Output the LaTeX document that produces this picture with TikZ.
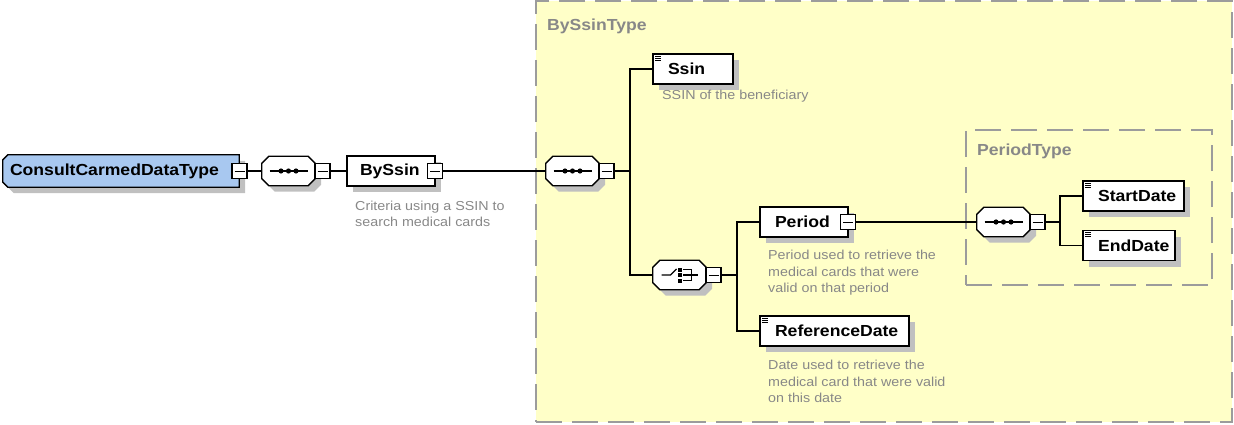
\documentclass[tikz,border=0pt]{standalone}
\usepackage{fontspec}
\setmainfont{Liberation Sans}[FakeStretch=1.1]
\usetikzlibrary{shadows}

\definecolor{groupfill}{HTML}{FFFFC8}
\definecolor{groupline}{HTML}{9C9C9C}
\definecolor{desc}{HTML}{888888}
\definecolor{shadowgray}{HTML}{C0C0C0}
\definecolor{rootfill}{HTML}{A8C8F0}

\pgfdeclarelayer{groups}
\pgfdeclarelayer{shapes}
\pgfsetlayers{groups,shapes,main}

\tikzset{
  wire/.style={line width=1.4pt, draw=black},
  boxshadow/.style={drop shadow={shadow xshift=6pt, shadow yshift=-6pt, fill=shadowgray, opacity=1}},
  elemfont/.style={font=\fontsize{16}{18}\selectfont\bfseries},
  elem/.style={rectangle, draw, fill=white, line width=1.3pt, minimum height=30pt,
    inner ysep=0pt, inner xsep=15pt, align=left, elemfont, boxshadow},
  simple/.style={elem, path picture={
      \foreach \d in {2pt,4pt,6pt}
        \draw[black, line width=0.9pt] ([shift={(2.2pt,-\d)}]path picture bounding box.north west) -- +(6pt,0pt);}},
  minus/.style={rectangle, draw, fill=white, line width=1.1pt, minimum size=15pt, inner sep=0pt,
    path picture={\draw[black, line width=1pt] ([xshift=-5pt]path picture bounding box.center)
      -- ([xshift=5pt]path picture bounding box.center);}},
  compframe/.style={rectangle, minimum width=53pt, minimum height=29pt, inner sep=0pt},
  icon/.style={black, line width=1.2pt},
  group/.style={rectangle, draw=groupline, fill=groupfill, line width=1.5pt,
    dash pattern=on 26pt off 10pt, inner sep=0pt},
  grouplabel/.style={anchor=base west, inner sep=0pt, text=desc, elemfont},
  note/.style={anchor=north west, inner sep=0pt, align=left, text=desc,
    font=\fontsize{13}{16.6}\selectfont},
}

% octagonal outline of a compositor node
\newcommand\octpath[2]{([xshift=#2]#1.north west) -- ([xshift=-#2]#1.north east)
  -- ([yshift=-#2]#1.north east) -- ([yshift=#2]#1.south east)
  -- ([xshift=-#2]#1.south east) -- ([xshift=#2]#1.south west)
  -- ([yshift=#2]#1.south west) -- ([yshift=-#2]#1.north west) -- cycle}
% outline of the root type: cut corners on the left only
\newcommand\rootpath[2]{([xshift=#2]#1.north west) -- (#1.north east)
  -- (#1.south east) -- ([xshift=#2]#1.south west)
  -- ([yshift=#2]#1.south west) -- ([yshift=-#2]#1.north west) -- cycle}

\newcommand\compshape[1]{%
  \begin{pgfonlayer}{shapes}
    \fill[shadowgray, transform canvas={shift={(6pt,-6pt)}}] \octpath{#1}{7pt};
    \draw[line width=1.3pt, fill=white] \octpath{#1}{7pt};
  \end{pgfonlayer}}

% sequence symbol: a line with three dots
\newcommand\seqicon[1]{%
  \draw[icon] ([xshift=-19pt]#1.center) -- ([xshift=19pt]#1.center);
  \foreach \dx in {-7.5pt,0pt,7.5pt}
    \fill[black] ([xshift=\dx]#1.center) circle[radius=2.6pt];}

% choice symbol: a switch in front of a bracket
\newcommand\choiceicon[1]{%
  \draw[icon, line width=1.1pt] ([xshift=-18pt]#1.center) -- ([xshift=-9pt]#1.center)
    -- ([shift={(-3pt,6pt)}]#1.center);
  \foreach \dy in {5.5pt,0pt,-5.5pt}
    \fill[black] ([shift={(-1.2pt,\dy-2pt)}]#1.center) rectangle +(4pt,4pt);
  \draw[icon, line width=1.1pt] ([shift={(3.8pt,5.5pt)}]#1.center) -| ([shift={(12pt,-5.5pt)}]#1.center)
    -- ([shift={(3.8pt,-5.5pt)}]#1.center);
  \draw[icon, line width=1.1pt] ([xshift=3.8pt]#1.center) -- ([xshift=18.5pt]#1.center);}

\begin{document}
\begin{tikzpicture}[x=1pt, y=-1pt]
\useasboundingbox (0,0) rectangle (1234,425);

% type groups
\begin{pgfonlayer}{groups}
\node[group, minimum width=696pt, minimum height=421pt] (gbyssin) at (884,211.5) {};
\node[group, minimum width=246pt, minimum height=155pt] (gperiod) at (1089,207.5) {};
\end{pgfonlayer}
\node[grouplabel] (lbyssin) at (547,30.5) {BySsinType};
\node[grouplabel] (lperiod) at (977,156) {PeriodType};

% root element
\node[rectangle, minimum width=236pt, minimum height=32pt, inner ysep=0pt, inner xsep=7pt,
  text width=222pt, align=left, elemfont] (root) at (121,171) {ConsultCarmedDataType};
\begin{pgfonlayer}{shapes}
  \fill[shadowgray, transform canvas={shift={(6pt,-6pt)}}] \rootpath{root}{5pt};
  \draw[line width=1.3pt, fill=rootfill] \rootpath{root}{5pt};
\end{pgfonlayer}
\node[minus] (mroot) at (239.5,171) {};

\node[compframe] (seq1) at (288.5,171) {};
\compshape{seq1}\seqicon{seq1}
\node[minus] (mseq1) at (322.5,171) {};

\node[elem, inner xsep=13pt, text width=62pt] (byssin) at (391,171) {BySsin};
\node[minus] (mbyssin) at (435,171) {};
\node[note] (nbyssin) at (355,200.5) {Criteria using a SSIN to\\search medical cards};

% BySsinType content
\node[compframe] (seq2) at (572.5,171) {};
\compshape{seq2}\seqicon{seq2}
\node[minus] (mseq2) at (606.5,171) {};
\coordinate (bus2) at (630,171);

\node[simple, text width=50pt] (ssin) at (693,69) {Ssin};
\node[note] (nssin) at (662,90) {SSIN of the beneficiary};

\node[compframe] (choice) at (679.5,275) {};
\compshape{choice}\choiceicon{choice}
\node[minus] (mchoice) at (713.5,275) {};
\coordinate (bus3) at (737,275);

\node[elem, text width=58pt] (period) at (804,222) {Period};
\node[minus] (mperiod) at (848,222) {};
\node[note] (nperiod) at (768,250) {Period used to retrieve the\\medical cards that were\\valid on that period};

\node[simple, text width=119pt] (refdate) at (834.5,331) {ReferenceDate};
\node[note] (nrefdate) at (768,360) {Date used to retrieve the\\medical card that were valid\\on this date};

% PeriodType content
\node[compframe] (seq3) at (1003.5,222) {};
\compshape{seq3}\seqicon{seq3}
\node[minus] (mseq3) at (1037.5,222) {};
\coordinate (bus4) at (1060,222);

\node[simple, text width=71pt] (start) at (1133.5,196) {StartDate};
\node[simple, text width=62pt] (end) at (1129,245.5) {EndDate};

% connectors
\draw[wire] (mroot.east) -- (seq1.west);
\draw[wire] (mseq1.east) -- (byssin.west);
\draw[wire] (mbyssin.east) -- (seq2.west);
\draw[wire] (mseq2.east) -- (bus2) |- (ssin.west);
\draw[wire] (bus2) |- (choice.west);
\draw[wire] (mchoice.east) -- (bus3) |- (period.west);
\draw[wire] (bus3) |- (refdate.west);
\draw[wire] (mperiod.east) -- (seq3.west);
\draw[wire] (mseq3.east) -- (bus4) |- (start.west);
\draw[wire] (bus4) |- (end.west);
\end{tikzpicture}
\end{document}
